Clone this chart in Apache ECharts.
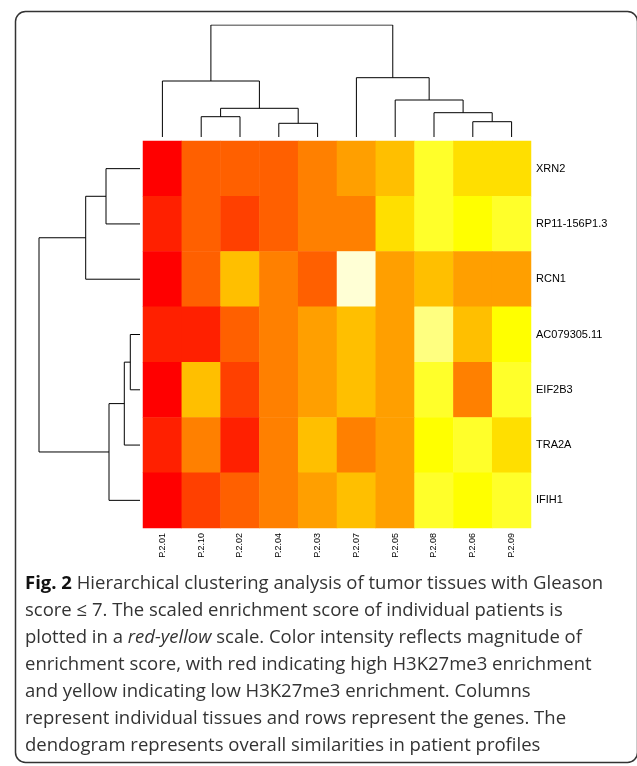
<!DOCTYPE html>
<html>
<head>
<meta charset="utf-8">
<script src="https://cdn.jsdelivr.net/npm/echarts@6/dist/echarts.min.js"></script>
<style>
  html, body { margin: 0; padding: 0; background: #fff; }
  #chart { width: 637px; height: 766px; }
</style>
</head>
<body>
<div id="chart"></div>
<script>
// columns (patients) in dendrogram order
const patients = ['P.2.01', 'P.2.10', 'P.2.02', 'P.2.04', 'P.2.03', 'P.2.07', 'P.2.05', 'P.2.08', 'P.2.06', 'P.2.09'];
// rows (genes) top to bottom
const genes = ['XRN2', 'RP11-156P1.3', 'RCN1', 'AC079305.11', 'EIF2B3', 'TRA2A', 'IFIH1'];

// colour bin of each cell, 0 = highest enrichment (red) ... 11 = lowest (pale yellow)
const xrn2 = [0, 3, 3, 3, 4, 5, 6, 9, 7, 7];
const rp11 = [1, 3, 2, 3, 4, 4, 7, 9, 8, 9];
const rcn1 = [0, 3, 6, 4, 3, 11, 5, 6, 5, 5];
const ac079305 = [1, 1, 3, 4, 5, 6, 5, 10, 6, 8];
const eif2b3 = [0, 6, 2, 4, 5, 6, 5, 9, 4, 9];
const tra2a = [1, 4, 1, 4, 6, 4, 5, 8, 9, 7];
const ifih1 = [0, 2, 3, 4, 5, 6, 5, 9, 8, 9];
const rows = [xrn2, rp11, rcn1, ac079305, eif2b3, tra2a, ifih1];

// heat.colors(12)
const heatColors = ['#FF0000', '#FF2000', '#FF4000', '#FF6000', '#FF8000', '#FF9F00',
  '#FFBF00', '#FFDF00', '#FFFF00', '#FFFF2A', '#FFFF80', '#FFFFD5'];

// dendrogram merges: [childA, childB, height]; leaves are 0..n-1, new nodes get n, n+1, ...
const colMerges = [
  [1, 2, 20.3],
  [3, 4, 13.7],
  [10, 11, 28.7],
  [0, 12, 56],
  [8, 9, 15.3],
  [7, 14, 24.3],
  [6, 15, 37],
  [5, 16, 59.3],
  [13, 17, 112]
];
const rowMerges = [
  [0, 1, 34],
  [7, 2, 54.3],
  [3, 4, 9.7],
  [9, 5, 15.7],
  [10, 6, 31],
  [8, 11, 101]
];

const captionLines = [
  '{b|Fig. 2} Hierarchical clustering analysis of tumor tissues with Gleason',
  'score ≤ 7. The scaled enrichment score of individual patients is',
  'plotted in a {i|red-yellow} scale. Color intensity reflects magnitude of',
  'enrichment score, with red indicating high H3K27me3 enrichment',
  'and yellow indicating low H3K27me3 enrichment. Columns',
  'represent individual tissues and rows represent the genes. The',
  'dendogram represents overall similarities in patient profiles'
];

// build elbow segments; pos = leaf position along the leaf axis, h = merge height
function dendroLinks(nLeaves, merges, swap) {
  const pos = [], hgt = [];
  for (let i = 0; i < nLeaves; i++) { pos.push(i + 0.5); hgt.push(0); }
  const links = [];
  merges.forEach(([a, b, h]) => {
    const pts = [[pos[a], hgt[a]], [pos[a], h], [pos[b], h], [pos[b], hgt[b]]];
    links.push({ coords: swap ? pts.map(p => [p[1], p[0]]) : pts });
    pos.push((pos[a] + pos[b]) / 2);
    hgt.push(h);
  });
  return links;
}

const heatData = [];
rows.forEach((vals, r) => vals.forEach((v, c) => heatData.push([c, r, v])));

const fontSans = 'Liberation Sans, Arial, sans-serif';
const capFont = 'Open Sans, sans-serif';
const capSize = 18.5;

let myChart = echarts.init(document.getElementById('chart'));
let option = {
  animation: false,
  backgroundColor: '#fff',
  grid: [
    { left: 143, top: 141, width: 388, height: 387 },  // heatmap
    { left: 143, top: 25, width: 388, height: 112 },   // column dendrogram
    { left: 39, top: 141, width: 101, height: 387 }    // row dendrogram
  ],
  xAxis: [
    {
      type: 'category', gridIndex: 0, data: patients, position: 'bottom',
      axisLine: { show: false }, axisTick: { show: false }, splitLine: { show: false },
      axisLabel: { rotate: 90, margin: 5, fontSize: 9, color: '#000', fontFamily: fontSans }
    },
    { type: 'value', gridIndex: 1, min: 0, max: patients.length, show: false },
    { type: 'value', gridIndex: 2, min: 0, max: 101, inverse: true, show: false }
  ],
  yAxis: [
    {
      type: 'category', gridIndex: 0, data: genes, inverse: true, position: 'right',
      axisLine: { show: false }, axisTick: { show: false }, splitLine: { show: false },
      axisLabel: { margin: 5, fontSize: 11, color: '#000', fontFamily: fontSans }
    },
    { type: 'value', gridIndex: 1, min: 0, max: 112, show: false },
    { type: 'value', gridIndex: 2, min: 0, max: genes.length, inverse: true, show: false }
  ],
  visualMap: {
    type: 'piecewise',
    show: false,
    dimension: 2,
    seriesIndex: 0,
    pieces: heatColors.map((c, i) => ({ value: i, color: c }))
  },
  series: [
    {
      type: 'heatmap',
      xAxisIndex: 0, yAxisIndex: 0,
      data: heatData,
      itemStyle: { borderWidth: 0 },
      emphasis: { disabled: true },
      silent: true
    },
    {
      type: 'lines', coordinateSystem: 'cartesian2d', polyline: true,
      xAxisIndex: 1, yAxisIndex: 1,
      data: dendroLinks(patients.length, colMerges, false),
      lineStyle: { color: '#000', width: 1, opacity: 1 },
      silent: true
    },
    {
      type: 'lines', coordinateSystem: 'cartesian2d', polyline: true,
      xAxisIndex: 2, yAxisIndex: 2,
      data: dendroLinks(genes.length, rowMerges, true),
      lineStyle: { color: '#000', width: 1, opacity: 1 },
      silent: true
    }
  ],
  graphic: [
    {
      type: 'rect', left: 13, top: 9, silent: true,
      shape: { width: 622, height: 751, r: 10 },
      style: { fill: 'none', stroke: '#333', lineWidth: 1.5 }
    }
  ].concat(captionLines.map((t, i) => ({
    type: 'text', x: 25, y: 584 + i * 27, silent: true,
    style: {
      text: t,
      fontFamily: capFont,
      fontSize: capSize,
      fill: '#333',
      verticalAlign: 'middle',
      rich: {
        b: { fontWeight: 'bold', fontFamily: capFont, fontSize: capSize, fill: '#111' },
        i: { fontStyle: 'italic', fontFamily: capFont, fontSize: capSize, fill: '#333' }
      }
    }
  })))
};
myChart.setOption(option);
</script>
</body>
</html>
